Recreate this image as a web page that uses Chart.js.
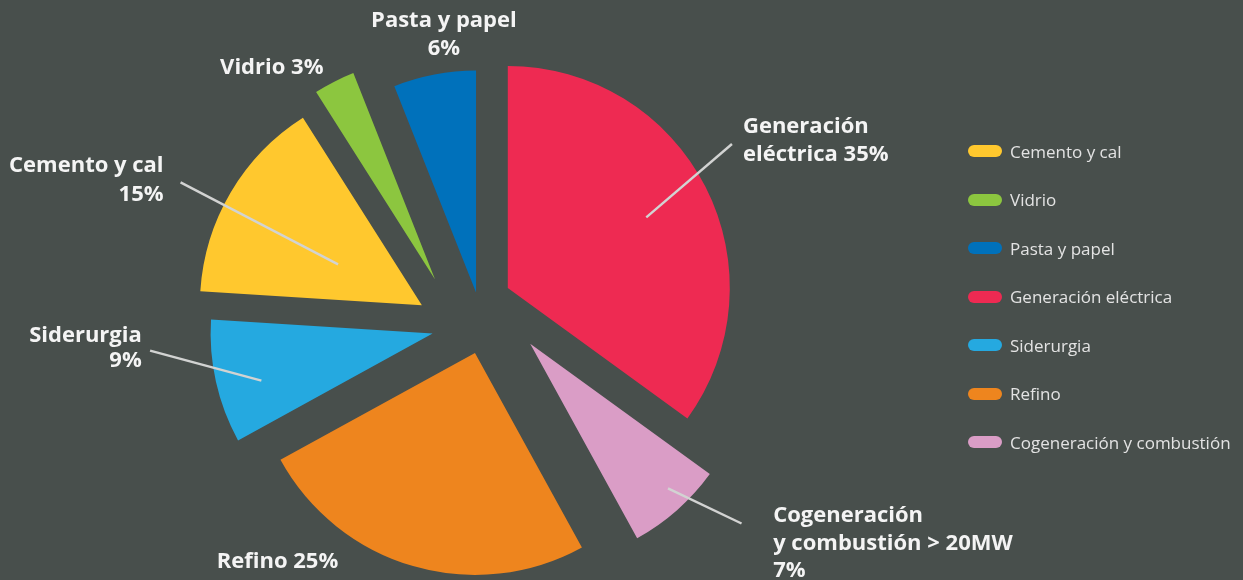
<!DOCTYPE html>
<html lang="es">
<head>
<meta charset="utf-8">
<title>Emisiones por sector</title>
<script src="https://cdn.jsdelivr.net/npm/chart.js@4.4.1/dist/chart.umd.min.js"></script>
<style>
  html, body { margin: 0; padding: 0; background: #484f4c; overflow: hidden; }
  #wrap { position: relative; width: 1243px; height: 580px; }
  #legend {
    position: absolute; left: 968px; top: 127px;
    margin: 0; padding: 0; list-style: none;
    font: 17px "Open Sans", sans-serif; color: #e3e3e3;
  }
  #legend li { height: 48.5px; display: flex; align-items: center; white-space: nowrap; }
  #legend .swatch { width: 34px; height: 12px; border-radius: 6px; margin-right: 8px; flex: none; }
</style>
</head>
<body>
<div id="wrap">
  <canvas id="pie" width="1243" height="580"></canvas>
  <ul id="legend"></ul>
</div>
<script>
// slices, clockwise from 12 o'clock
const labels = ['Generación eléctrica', 'Cogeneración y combustión', 'Refino', 'Siderurgia', 'Cemento y cal', 'Vidrio', 'Pasta y papel'];
const shares = [35, 7, 25, 9, 15, 3, 6];
const colors = ['#ee2a52', '#da9dc6', '#ee851e', '#25a9e0', '#ffc82e', '#8cc63f', '#0071bb'];
const legendOrder = ['Cemento y cal', 'Vidrio', 'Pasta y papel', 'Generación eléctrica', 'Siderurgia', 'Refino', 'Cogeneración y combustión'];
const captions = [
    ['Generación', 'eléctrica {v}%'],
    ['Cogeneración', 'y combustión > 20MW', '{v}%'],
    ['Refino {v}%'],
    ['Siderurgia', '{v}%'],
    ['Cemento y cal', '{v}%'],
    ['Vidrio {v}%'],
    ['Pasta y papel', '{v}%']
];

// how far each slice is pulled out: [along its middle, sideways]
const explode = [[42, -13.5], [54, -24], [33, -8], [46, -4.5], [54, -16], [54, -19], [26, 4.5]];

// caption placement: angles clockwise from 12 o'clock, distances in slice radii
const callouts = [
    { from: [63, 0.70], to: [57.3, 1.20], dx: 11, dy: -11, align: 'left', lead: 28.4 },
    { from: [136.4, 0.90], to: [130.4, 1.25], dx: 31.6, dy: -1, align: 'left', lead: 27.2 },
    { at: [222.5, 1.317], align: 'center', lead: 28 },
    { from: [254.6, 0.80], to: [266.5, 1.275], dx: -8.3, dy: -9, align: 'right', lead: 25 },
    { from: [296, 0.42], to: [297, 1.22], dx: -17, dy: -10, align: 'right', lead: 29 },
    { at: [321.6, 1.184], align: 'center', lead: 28 },
    { at: [353.1, 1.205], align: 'center', lead: 27.6 }
];

const explodePlugin = {
    id: 'explode',
    afterDatasetsUpdate(chart) {
        chart.getDatasetMeta(0).data.forEach((arc, i) => {
            const mid = (arc.startAngle + arc.endAngle) / 2;
            const [out, side] = explode[i];
            arc.x += Math.cos(mid) * out - Math.sin(mid) * side;
            arc.y += Math.sin(mid) * out + Math.cos(mid) * side;
        });
    }
};

const calloutPlugin = {
    id: 'callouts',
    afterDatasetsDraw(chart) {
        const ctx = chart.ctx;
        const arcs = chart.getDatasetMeta(0).data;
        ctx.save();
        ctx.font = 'bold 22px "Open Sans", sans-serif';
        ctx.fillStyle = '#f4f4f4';
        ctx.strokeStyle = '#d2d3d2';
        ctx.lineWidth = 2.4;
        ctx.textBaseline = 'alphabetic';
        arcs.forEach((arc, i) => {
            const c = callouts[i];
            const r = arc.outerRadius;
            const polar = ([deg, k]) => {
                const a = deg * Math.PI / 180;
                return [arc.x + Math.sin(a) * k * r, arc.y - Math.cos(a) * k * r];
            };
            let anchor;
            if (c.from) {
                const p0 = polar(c.from);
                const p1 = polar(c.to);
                ctx.beginPath();
                ctx.moveTo(p0[0], p0[1]);
                ctx.lineTo(p1[0], p1[1]);
                ctx.stroke();
                anchor = [p1[0] + c.dx, p1[1] + c.dy];
            } else {
                anchor = polar(c.at);
            }
            ctx.textAlign = c.align;
            captions[i].forEach((line, j) => {
                ctx.fillText(line.replace('{v}', shares[i]), anchor[0], anchor[1] + j * c.lead);
            });
        });
        ctx.restore();
    }
};

const chart = new Chart(document.getElementById('pie').getContext('2d'), {
    type: 'pie',
    data: {
        labels: labels,
        datasets: [{
            data: shares,
            backgroundColor: colors,
            borderWidth: 0
        }]
    },
    options: {
        responsive: false,
        animation: false,
        events: [],
        radius: 222,
        layout: { padding: { top: 58, right: 290, bottom: 0, left: 0 } },
        plugins: {
            legend: { display: false },
            tooltip: { enabled: false }
        }
    },
    plugins: [explodePlugin, calloutPlugin]
});

// legend in its own order, swatches taken from the dataset
const legendEl = document.getElementById('legend');
legendOrder.forEach(name => {
    const i = chart.data.labels.indexOf(name);
    const li = document.createElement('li');
    const swatch = document.createElement('span');
    swatch.className = 'swatch';
    swatch.style.background = chart.data.datasets[0].backgroundColor[i];
    li.appendChild(swatch);
    li.appendChild(document.createTextNode(name));
    legendEl.appendChild(li);
});
</script>
</body>
</html>
